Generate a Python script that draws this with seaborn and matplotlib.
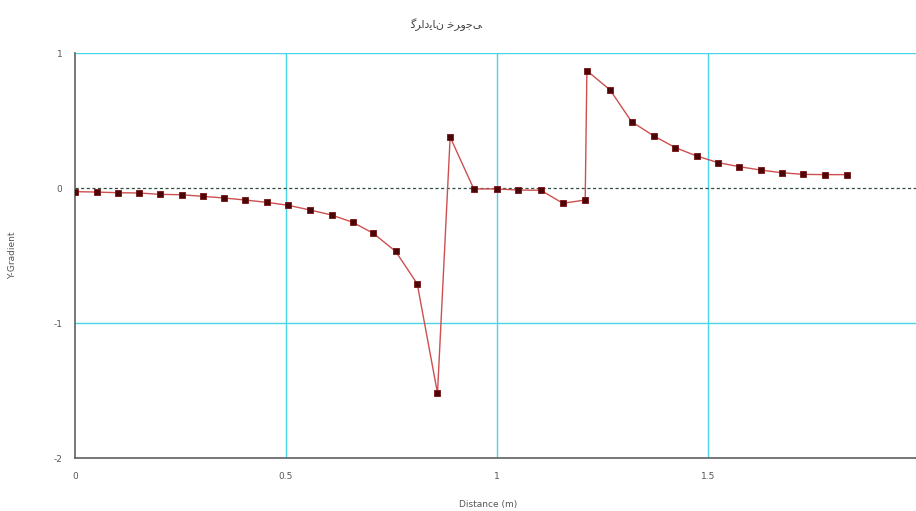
import matplotlib
matplotlib.use("Agg")
import matplotlib.pyplot as plt
import seaborn as sns
import pandas as pd

# Sampled profile: distance along the line (m) and the Y-gradient value
distance = [0.000, 0.051, 0.101, 0.152, 0.201, 0.253, 0.303, 0.353, 0.403, 0.454,
            0.505, 0.557, 0.608, 0.658, 0.707, 0.760, 0.811, 0.859, 0.889, 0.945,
            0.999, 1.050, 1.104, 1.156, 1.209, 1.213, 1.268, 1.319, 1.372, 1.422,
            1.473, 1.524, 1.574, 1.625, 1.675, 1.726, 1.777, 1.829]
y_gradient = [-0.027, -0.030, -0.035, -0.037, -0.047, -0.050, -0.062, -0.074, -0.089, -0.106,
              -0.128, -0.163, -0.200, -0.254, -0.336, -0.470, -0.710, -1.520, 0.377, -0.007,
              -0.007, -0.015, -0.017, -0.113, -0.089, 0.869, 0.726, 0.491, 0.385, 0.300,
              0.237, 0.188, 0.158, 0.133, 0.113, 0.101, 0.099, 0.099]

x_ticks = [0, 0.5, 1, 1.5, 2]
x_tick_labels = ["0", "0.5", "1", "1.5", "2"]
y_ticks = [-2, -1, 0, 1]
y_tick_labels = ["-2", "-1", "0", "1"]

# Persian title "گرادیان خروجی" in joined presentation forms, laid out left to right
title_forms = ["\uFB94", "\uFEAE", "\uFE8D", "\uFEA9", "\uFBFE", "\uFE8E", "\uFEE5",
               " ", "\uFEA7", "\uFEAE", "\uFEED", "\uFE9F", "\uFBFD"]
title_text = "".join(title_forms)

sns.set_style("white")
plt.rcParams["font.family"] = ["DejaVu Sans"]

df = pd.DataFrame({"distance": distance, "y_gradient": y_gradient})

fig = plt.figure(figsize=(9.16, 5.11), dpi=100)
ax = fig.add_axes([75 / 916, 53 / 511, (919 - 75) / 916, (458 - 53) / 511])

grid_col = "#48d6e6"
for gx in [0.5, 1.0, 1.5, 2.0]:
    ax.axvline(gx, color=grid_col, lw=1.0, zorder=0)
for gy in [-1.0, 1.0]:
    ax.axhline(gy, color=grid_col, lw=1.0, zorder=0)
ax.axhline(0, color="#2f5040", lw=0.9, ls=(0, (2.5, 2.0)), zorder=1)

sns.lineplot(data=df, x="distance", y="y_gradient", ax=ax, sort=False, estimator=None,
             color="#cc5050", lw=1.0, marker="s", markersize=3.8,
             markerfacecolor="#4a0608", markeredgecolor="#7a1010", markeredgewidth=0.6,
             zorder=3)

ax.set_xlim(0, 2)
ax.set_ylim(-2, 1)
ax.set_xticks(x_ticks)
ax.set_xticklabels(x_tick_labels)
ax.set_yticks(y_ticks)
ax.set_yticklabels(y_tick_labels)
ax.tick_params(axis="x", labelsize=6.5, colors="#555555", length=4, width=0.8,
               direction="out", pad=6)
ax.tick_params(axis="y", labelsize=6.5, colors="#555555", length=7, width=0.8,
               direction="out", pad=2)

for side in ["top", "right"]:
    ax.spines[side].set_visible(False)
for side in ["left", "bottom"]:
    ax.spines[side].set_color("#606060")
    ax.spines[side].set_linewidth(1.2)

ax.set_xlabel("")
ax.set_ylabel("")
fig.text(488 / 916, 1 - 504 / 511, "Distance (m)", ha="center", va="center",
         fontsize=6.5, color="#555555")
fig.text(13 / 916, 1 - 255 / 511, "Y-Gradient", ha="center", va="center",
         rotation=90, fontsize=6.5, color="#555555")
fig.text(446 / 916, 1 - 25 / 511, title_text, ha="center", va="center",
         fontsize=8, color="#444444")

fig.savefig("out.png", dpi=100)
